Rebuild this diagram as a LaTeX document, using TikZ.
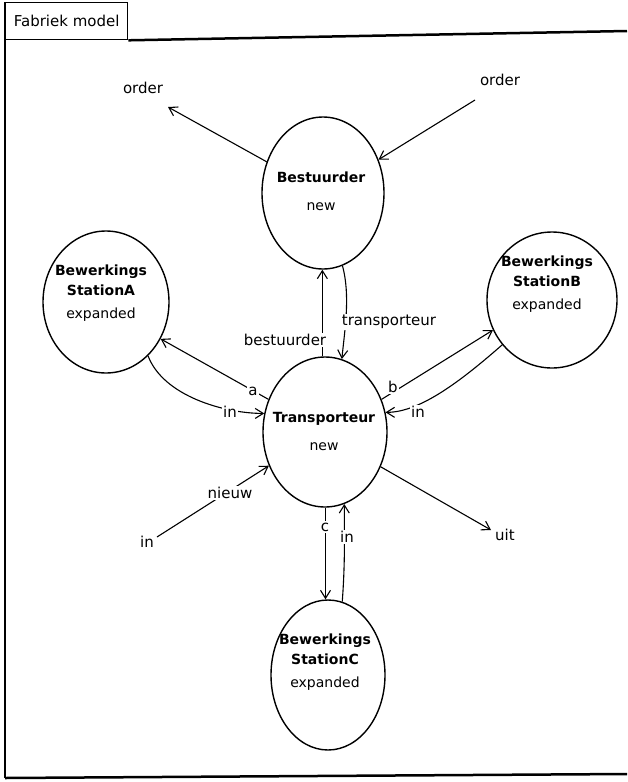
\documentclass[tikz,border=0pt]{standalone}
\usepackage{fontspec}
\setmainfont{DejaVu Sans}
\usetikzlibrary{shapes.geometric,arrows.meta}
\begin{document}
\begin{tikzpicture}[x=1pt,y=-1pt,
  station/.style={ellipse,draw,line width=1.4pt,inner sep=0pt},
  stext/.style={inner sep=0pt,align=center,font=\fontsize{14}{20}\selectfont},
  conn/.style={line width=1.1pt,-{Straight Barb[length=8pt,width=10pt,line width=1.1pt]}},
  lbl/.style={fill=white,inner sep=1.5pt,font=\fontsize{15}{17}\selectfont},
  txt/.style={inner sep=0pt,font=\fontsize{15}{17}\selectfont}]
\useasboundingbox (0,0) rectangle (627,782);

% frame with title tab
\node[draw,line width=1.3pt,anchor=north west,minimum width=122pt,minimum height=37pt,inner sep=2pt,font=\fontsize{15}{17}\selectfont] (tab) at (5,2) {Fabriek model};
\draw[line width=2.5pt] (tab.south east) -- (627,31);
\draw[line width=2pt] (5,2) -- (5,778);
\draw[line width=2.5pt] (5,778) -- (627,774);

% processes
\node[station,minimum width=122pt,minimum height=152pt] (bes) at (323,193) {};
\node[station,minimum width=126pt,minimum height=142pt] (sa) at (106,302) {};
\node[station,minimum width=130pt,minimum height=136pt] (sb) at (552,300) {};
\node[station,minimum width=124pt,minimum height=150pt] (tr) at (325,432) {};
\node[station,minimum width=114pt,minimum height=150pt] (sc) at (328,675) {};

\node[stext] (bestxt) at (321,191) {\textbf{Bestuurder}\\[8pt]new};
\node[stext] (satxt) at (101,293) {\textbf{Bewerkings}\\\textbf{StationA}\\[3pt]expanded};
\node[stext] (sbtxt) at (547,284) {\textbf{Bewerkings}\\\textbf{StationB}\\[3pt]expanded};
\node[stext] (trtxt) at (324,431) {\textbf{Transporteur}\\[8pt]new};
\node[stext] (sctxt) at (325,662) {\textbf{Bewerkings}\\\textbf{StationC}\\[3pt]expanded};

% external ports
\node[txt] (ordl) at (143,88) {order};
\node[txt] (ordr) at (500,80) {order};
\node[txt] (inx) at (147,542) {in};
\node[txt] (uit) at (505,535) {uit};
\coordinate (ordlend) at (168,107);
\coordinate (ordrstart) at (475,100);
\coordinate (inxstart) at (157,537);
\coordinate (uitend) at (491,530);

% channels
\draw[conn] (bes.151) -- (ordlend);
\draw[conn] (ordrstart) -- (bes.31);
\draw[conn] (tr.92) -- (tr.92 |- bes.south);
\draw[conn] (bes.-75) .. controls +(8,30) and +(3,-30) .. (tr.77);
\draw[conn] (tr.150) -- (sa.-34);
\draw[conn] (sa.-52) .. controls +(15,40) and +(-40,0) .. (tr.163);
\draw[conn] (tr.30) -- (sb.207);
\draw[conn] (sb.222) .. controls +(-40,35) and +(35,0) .. (tr.18);
\draw[conn] (tr.-32) -- (uitend);
\draw[conn] (inxstart) -- (tr.211);
\draw[conn] ([xshift=0.5pt]tr.-90) -- ([xshift=0.5pt]tr.-90 |- sc.north);
\draw[conn] (sc.79) .. controls +(3,-40) and +(0,30) .. (tr.-75);

% channel names at their ports
\node[lbl] (lbes) at (285,340) {bestuurder};
\node[lbl] (ltra) at (389,322) {transporteur};
\node[lbl] (la) at (253,391) {a};
\node[lbl] (lina) at (230,412) {in};
\node[lbl] (lb) at (393,387) {b};
\node[lbl] (linb) at (418,412) {in};
\node[lbl] (lnieuw) at (230,493) {nieuw};
\node[lbl] (lc) at (325,527) {c};
\node[lbl] (linc) at (347,537) {in};
\end{tikzpicture}
\end{document}
